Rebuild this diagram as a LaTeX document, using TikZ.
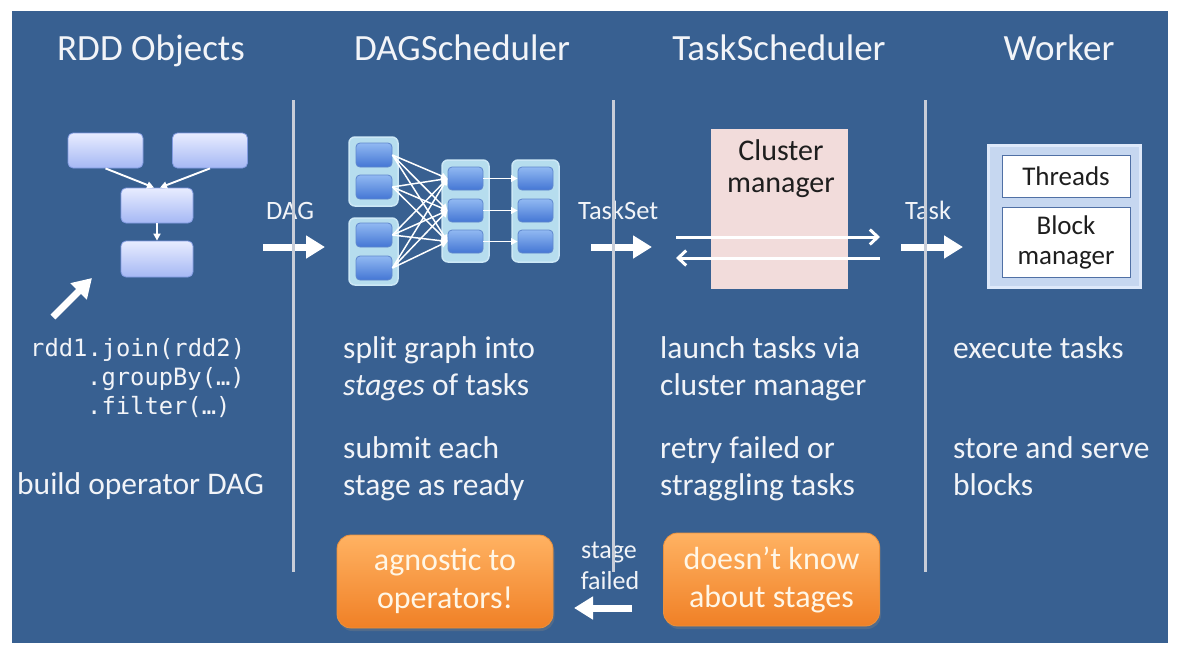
\documentclass[tikz,border=0pt]{standalone}
\usepackage{fontspec}
\setmainfont{Carlito}
\setmonofont{DejaVu Sans Mono}
\usetikzlibrary{arrows.meta,shadows}

\definecolor{bg}{RGB}{56,96,145}
\definecolor{sep}{RGB}{200,205,216}
\definecolor{txt}{RGB}{242,244,248}
\definecolor{rddtop}{RGB}{232,236,255}
\definecolor{rddbot}{RGB}{165,184,244}
\definecolor{rddline}{RGB}{130,155,225}
\definecolor{grpfill}{RGB}{182,221,238}
\definecolor{grpline}{RGB}{205,232,246}
\definecolor{intop}{RGB}{145,185,242}
\definecolor{inbot}{RGB}{68,118,212}
\definecolor{inline}{RGB}{95,135,205}
\definecolor{pinkbox}{RGB}{242,220,219}
\definecolor{wkfill}{RGB}{198,215,240}
\definecolor{wkline}{RGB}{222,233,250}
\definecolor{wkinner}{RGB}{80,112,165}
\definecolor{ortop}{RGB}{255,178,98}
\definecolor{orbot}{RGB}{240,128,38}
\definecolor{orline}{RGB}{235,145,60}
\definecolor{ortext}{RGB}{255,246,230}
\definecolor{darktxt}{RGB}{30,30,30}

\tikzset{
  title/.style={anchor=base, inner sep=0pt, text=txt, font=\fontsize{37}{44}\selectfont},
  body/.style={anchor=base west, inner sep=0pt, text=txt, font=\fontsize{31.5}{37}\selectfont},
  code/.style={anchor=base west, inner sep=0pt, text=txt, font=\ttfamily\fontsize{23.8}{28}\selectfont},
  flowlbl/.style={anchor=base west, inner sep=0pt, text=txt, font=\fontsize{26.5}{30}\selectfont},
  smalllbl/.style={anchor=base, inner sep=0pt, text=txt, font=\fontsize{26}{30}\selectfont},
  rddbox/.style={rectangle, rounded corners=5pt, top color=rddtop, bottom color=rddbot, draw=rddline, line width=0.8pt, minimum width=75pt, minimum height=35pt, inner sep=0pt},
  rddarrow/.style={draw=white, line width=1.9pt, -{Triangle[length=7pt,width=7pt]}},
  grpbox/.style={rectangle, rounded corners=6pt, fill=grpfill, draw=grpline, line width=1.5pt, inner sep=0pt},
  inbox/.style={rectangle, rounded corners=4pt, top color=intop, bottom color=inbot, draw=inline, line width=0.8pt, minimum width=35pt, minimum height=23pt, inner sep=0pt},
  dagedge/.style={draw=white, line width=1.5pt, -{Triangle[length=6.5pt,width=6.5pt]}},
  bigarrow/.style={draw=white, line width=7pt, -{Triangle[length=19pt,width=22pt]}},
  thinarrow/.style={draw=white, line width=3pt, -{Straight Barb[length=8pt,width=15pt,line width=3pt]}},
  sepline/.style={draw=sep, line width=3pt},
  orangebox/.style={rectangle, rounded corners=14pt, top color=ortop, bottom color=orbot, draw=orline, line width=0.8pt, minimum width=216pt, minimum height=93pt, inner sep=0pt, align=center, text=ortext, font=\fontsize{32}{38}\selectfont, drop shadow={opacity=0.35, shadow xshift=1.5pt, shadow yshift=-3pt}},
  wkbox/.style={rectangle, fill=white, draw=wkinner, line width=0.9pt, minimum width=128pt, inner sep=0pt, align=center, text=darktxt, font=\fontsize{27}{30}\selectfont},
}

\begin{document}
\begin{tikzpicture}[x=1pt,y=-1pt]
\useasboundingbox (0,0) rectangle (1181,651);
\fill[white] (0,0) rectangle (1181,651);
\fill[bg] (12,11) rectangle (1168,643);

% titles
\node[title] (t1) at (151,60) {RDD Objects};
\node[title] (t2) at (462,60) {DAGScheduler};
\node[title] (t3) at (779,60) {TaskScheduler};
\node[title] (t4) at (1059,60) {Worker};

% RDD objects
\node[rddbox] (r1) at (105.5,150.5) {};
\node[rddbox] (r2) at (210,150.5) {};
\node[rddbox, minimum width=72pt] (r3) at (157,205.5) {};
\node[rddbox, minimum width=72pt, minimum height=36pt] (r4) at (157,259) {};
\draw[rddarrow] (r1.south) -- ([xshift=-3pt]r3.north);
\draw[rddarrow] (r2.south) -- ([xshift=3pt]r3.north);
\draw[rddarrow] (r3.south) -- (r4.north);
\coordinate (cat) at (53,317);
\coordinate (cah) at (92,278);
\draw[bigarrow] (cat) -- (cah);

\node[code] (c1) at (30,356) {rdd1.join(rdd2)};
\node[code] (c2) at (87,385) {.groupBy(…)};
\node[code] (c3) at (87,414) {.filter(…)};
\node[body] (b0) at (17,494) {build operator DAG};

% DAG scheduler graph
\node[grpbox, minimum width=49pt, minimum height=69pt] (g1) at (373.5,171.5) {};
\node[grpbox, minimum width=49pt, minimum height=67pt] (g2) at (373.5,251.5) {};
\node[grpbox, minimum width=47pt, minimum height=102pt] (g3) at (465.5,211) {};
\node[grpbox, minimum width=47pt, minimum height=102pt] (g4) at (535.5,211) {};
\node[inbox, minimum width=36pt, minimum height=24pt] (a1) at (374,155) {};
\node[inbox, minimum width=36pt, minimum height=24pt] (a2) at (374,187) {};
\node[inbox, minimum width=36pt, minimum height=24pt] (a3) at (374,235) {};
\node[inbox, minimum width=36pt, minimum height=24pt] (a4) at (374,268) {};
\node[inbox] (m1) at (465.5,178.5) {};
\node[inbox] (m2) at (465.5,210.5) {};
\node[inbox] (m3) at (465.5,241.5) {};
\node[inbox] (n1) at (535.5,178.5) {};
\node[inbox] (n2) at (535.5,210.5) {};
\node[inbox] (n3) at (535.5,241.5) {};
\foreach \s in {a1,a2,a3,a4}{
  \foreach \t in {m1,m2,m3}{
    \draw[dagedge] (\s.east) -- (\t.west);
  }
}
\draw[dagedge] (m1.east) -- (n1.west);
\draw[dagedge] (m2.east) -- (n2.west);
\draw[dagedge] (m3.east) -- (n3.west);

% flow labels and arrows
\node[flowlbl] (ldag) at (266,219) {DAG};
\node[flowlbl] (lts) at (578,219) {TaskSet};
\node[flowlbl] (ltk) at (905,219) {Task};
\coordinate (d1) at (263,247);
\coordinate (d2) at (325,247);
\draw[bigarrow] (d1) -- (d2);
\coordinate (s1) at (591,247);
\coordinate (s2) at (652,247);
\draw[bigarrow] (s1) -- (s2);
\coordinate (k1) at (901,247);
\coordinate (k2) at (963,247);
\draw[bigarrow] (k1) -- (k2);

% cluster manager
\node[rectangle, fill=pinkbox, minimum width=137pt, minimum height=160pt, inner sep=0pt] (cm) at (779.5,209) {};
\node[anchor=base, inner sep=0pt, text=darktxt, font=\fontsize{30}{34}\selectfont] (cml1) at (781,160) {Cluster};
\node[anchor=base, inner sep=0pt, text=darktxt, font=\fontsize{30}{34}\selectfont] (cml2) at (781,192) {manager};
\coordinate (ca1) at (676,237);
\coordinate (ca2) at (880,237);
\coordinate (cb1) at (880,258);
\coordinate (cb2) at (676,258);
\draw[thinarrow] (ca1) -- (ca2);
\draw[thinarrow] (cb1) -- (cb2);

% worker
\node[rectangle, fill=wkfill, draw=wkline, line width=3pt, minimum width=152pt, minimum height=142pt, inner sep=0pt] (wk) at (1064,216) {};
\node[wkbox, minimum height=42pt] (th) at (1066,176) {Threads};
\node[wkbox, minimum height=70pt] (bm) at (1066,242) {Block\\manager};

% body texts
\node[body] (p1) at (343,358) {split graph into};
\node[body] (p2) at (343,395) {\textit{stages} of tasks};
\node[body] (p3) at (343,458) {submit each};
\node[body] (p4) at (343,495) {stage as ready};
\node[body] (q1) at (660,358) {launch tasks via};
\node[body] (q2) at (660,395) {cluster manager};
\node[body] (q3) at (660,458) {retry failed or};
\node[body] (q4) at (660,495) {straggling tasks};
\node[body] (w1) at (953,358) {execute tasks};
\node[body] (w2) at (953,458) {store and serve};
\node[body] (w3) at (953,495) {blocks};

% orange boxes
\node[orangebox] (o1) at (445,581.5) {agnostic to\\operators!};
\node[orangebox] (o2) at (771.5,579.5) {doesn’t know\\about stages};
\node[smalllbl] (sf1) at (609,558) {stage};
\node[smalllbl] (sf2) at (610,589) {failed};
\coordinate (f1) at (632,608);
\coordinate (f2) at (574,608);
\draw[bigarrow] (f1) -- (f2);

% separators
\coordinate (v1t) at (293,100);
\coordinate (v1b) at (293,572);
\coordinate (v2t) at (613,100);
\coordinate (v2b) at (613,572);
\coordinate (v3t) at (925,100);
\coordinate (v3b) at (925,572);
\draw[sepline] (v1t) -- (v1b);
\draw[sepline] (v2t) -- (v2b);
\draw[sepline] (v3t) -- (v3b);
\end{tikzpicture}
\end{document}
